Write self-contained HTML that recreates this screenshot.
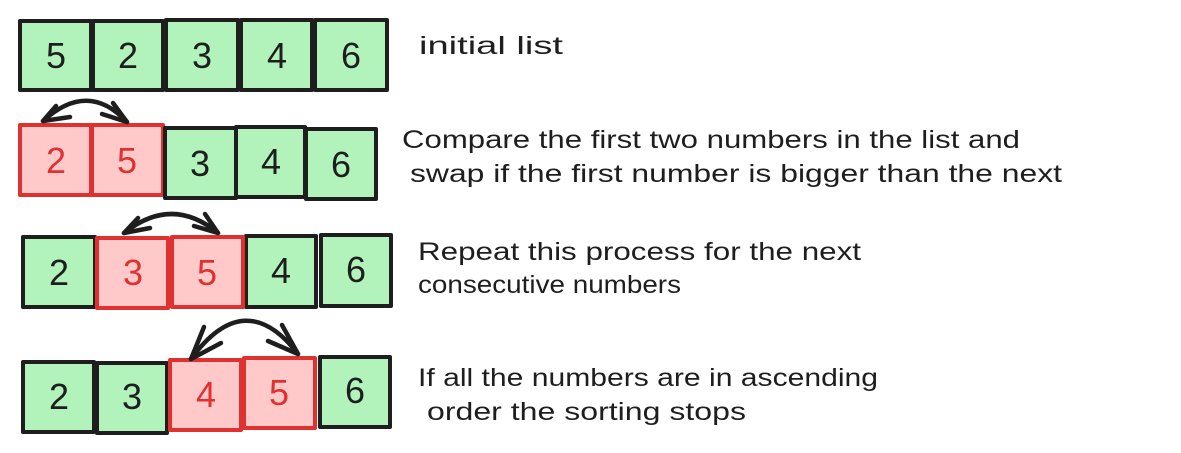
<!DOCTYPE html>
<html><head><meta charset="utf-8"><style>
html,body{margin:0;padding:0;background:#fff;}
svg{display:block;}
text{font-family:"Liberation Sans",sans-serif;}
</style></head><body>
<svg width="1181" height="453" viewBox="0 0 1181 453" xmlns="http://www.w3.org/2000/svg">
<g stroke-width="4" stroke-linejoin="round">
<g fill="#b2f2bb" stroke="#1e1e1e">
<rect x="20" y="21" width="71" height="69"/>
<rect x="93" y="21" width="70" height="69"/>
<rect x="166" y="20" width="72" height="70"/>
<rect x="241" y="20" width="71" height="70"/>
<rect x="315" y="20" width="72" height="70"/>
</g>
<g fill="#ffc9c9" stroke="#e03131">
<rect x="20" y="125" width="71" height="70"/>
<rect x="92" y="125" width="71" height="70"/>
</g>
<g fill="#b2f2bb" stroke="#1e1e1e">
<rect x="165" y="128" width="71" height="70"/>
<rect x="236" y="127" width="69" height="70"/>
<rect x="306" y="129" width="70" height="70"/>
</g>
<g fill="#b2f2bb" stroke="#1e1e1e">
<rect x="23" y="237" width="72" height="70"/>
<rect x="246" y="236" width="70" height="71"/>
<rect x="321" y="235" width="70" height="71"/>
</g>
<g fill="#ffc9c9" stroke="#e03131">
<rect x="97" y="238" width="71" height="70"/>
<rect x="172" y="237" width="71" height="70"/>
</g>
<g fill="#b2f2bb" stroke="#1e1e1e">
<rect x="23" y="362" width="71" height="70"/>
<rect x="97" y="363" width="70" height="70"/>
<rect x="320" y="357" width="70" height="70"/>
</g>
<g fill="#ffc9c9" stroke="#e03131">
<rect x="170" y="360" width="71" height="70"/>
<rect x="244" y="358" width="71" height="70"/>
</g>
</g>
<g fill="none" stroke="#1e1e1e" stroke-width="4.5" stroke-linecap="round">
<path d="M43,121 Q88,80 127,122"/>
<path d="M43,121 L70,117 M43,121 L56,106"/>
<path d="M127,122 L102,114 M127,122 L113,103"/>
<path d="M124,233 Q172,195 218,233"/>
<path d="M124,233 L150,228 M124,233 L138,218"/>
<path d="M218,233 L194,226 M218,233 L205,214"/>
<path d="M191,359 Q245,285 298,354"/>
<path d="M191,359 L221,343 M191,359 L204,327"/>
<path d="M298,354 L268,341 M298,354 L282,325"/>
</g>
<g font-size="36" text-anchor="middle" fill="#1e1e1e">
<text x="56" y="68">5</text><text x="128" y="68">2</text><text x="202" y="68">3</text><text x="277" y="68">4</text><text x="351" y="68">6</text>
<text x="56" y="173" fill="#e03131">2</text><text x="127" y="173" fill="#e03131">5</text><text x="200" y="176">3</text><text x="271" y="174">4</text><text x="341" y="177">6</text>
<text x="59" y="285">2</text><text x="133" y="285" fill="#e03131">3</text><text x="207" y="285" fill="#e03131">5</text><text x="281" y="283">4</text><text x="356" y="282">6</text>
<text x="59" y="409">2</text><text x="132" y="409">3</text><text x="206" y="407" fill="#e03131">4</text><text x="279" y="405" fill="#e03131">5</text><text x="355" y="403">6</text>
</g>
<g font-size="25" fill="#1e1e1e">
<text x="419" y="54" textLength="144" lengthAdjust="spacingAndGlyphs">initial list</text>
<text x="402" y="148" textLength="618" lengthAdjust="spacingAndGlyphs">Compare the first two numbers in the list and</text>
<text x="410" y="182" textLength="652" lengthAdjust="spacingAndGlyphs">swap if the first number is bigger than the next</text>
<text x="418" y="260" textLength="443" lengthAdjust="spacingAndGlyphs">Repeat this process for the next</text>
<text x="418" y="293" textLength="263" lengthAdjust="spacingAndGlyphs">consecutive numbers</text>
<text x="418" y="386" textLength="460" lengthAdjust="spacingAndGlyphs">If all the numbers are in ascending</text>
<text x="427" y="420" textLength="319" lengthAdjust="spacingAndGlyphs">order the sorting stops</text>
</g>
</svg>
</body></html>
